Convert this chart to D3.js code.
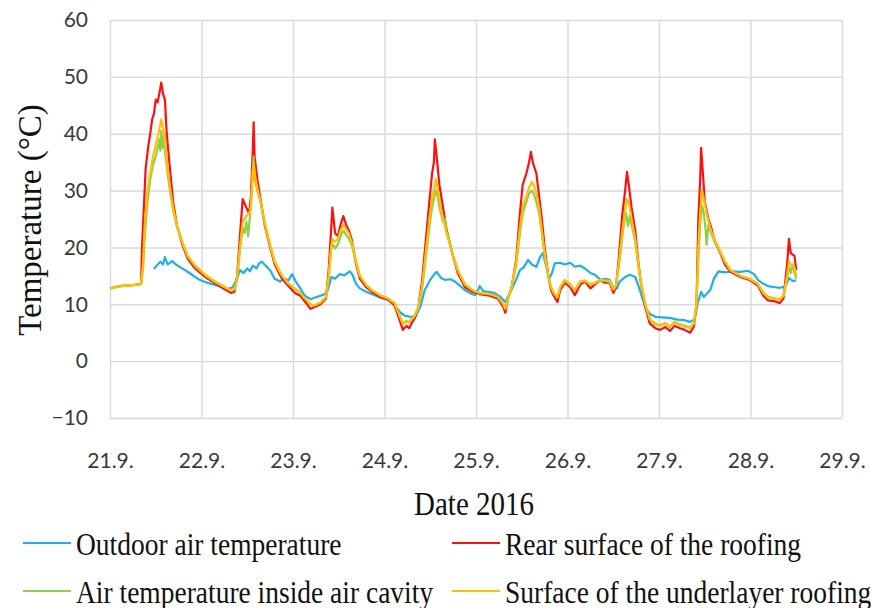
<!DOCTYPE html>
<html>
<head>
<meta charset="utf-8">
<script src="https://cdn.jsdelivr.net/npm/d3@7"></script>
<style>
  html, body { margin: 0; padding: 0; background: #fff; }
  svg { display: block; }
</style>
</head>
<body>
<svg id="chart" width="871" height="608"></svg>
<script>
// Tick labels (days of September 2016) and axis ticks
const dateLabels = ["21.9.", "22.9.", "23.9.", "24.9.", "25.9.", "26.9.", "27.9.", "28.9.", "29.9."];
const tempTicks = [-10, 0, 10, 20, 30, 40, 50, 60];

// Measured series: [days since 21.9. 00:00, temperature °C]
const outdoorAir = [
  [0.48,16.2],[0.51,16.8],[0.55,17.5],[0.58,17],[0.60,18.3],[0.63,17],[0.68,17.6],[0.72,17],[0.77,16.5],
  [0.82,16],[0.87,15.5],[0.93,14.8],[0.98,14.3],[1.06,13.8],[1.15,13.4],[1.22,13],[1.29,12.7],[1.34,13],
  [1.39,14.5],[1.42,16],[1.46,15.5],[1.50,16.3],[1.53,15.8],[1.56,16.8],[1.60,16.3],[1.63,17.2],[1.66,17.5],
  [1.70,16.8],[1.75,16],[1.80,14.5],[1.86,14],[1.90,14.6],[1.95,14.2],[1.99,15.3],[2.03,14],[2.08,12.8],
  [2.13,11.5],[2.19,10.9],[2.24,11.2],[2.30,11.5],[2.35,11.8],[2.38,12.5],[2.42,14.8],[2.46,14.5],[2.51,15.3],
  [2.56,15.1],[2.62,15.8],[2.65,15.2],[2.69,13.6],[2.73,12.8],[2.80,12.2],[2.86,11.8],[2.95,11.2],[3.04,10.8],
  [3.11,9.9],[3.17,8.6],[3.22,8],[3.28,7.8],[3.34,7.9],[3.39,9.5],[3.44,12.5],[3.50,14.3],[3.54,15.2],
  [3.57,15.7],[3.62,14.6],[3.66,14.3],[3.72,14.4],[3.77,14],[3.83,13.2],[3.88,12.5],[3.93,12],[3.99,11.6],
  [4.02,12.4],[4.04,13.2],[4.08,12.3],[4.13,12.2],[4.20,12],[4.26,11.4],[4.32,10.4],[4.37,12],[4.43,14],
  [4.48,16],[4.52,16.5],[4.57,17.8],[4.61,17],[4.66,16.6],[4.70,18.3],[4.73,19],[4.77,16.5],[4.80,14.5],
  [4.83,15.5],[4.86,17.2],[4.92,17.3],[4.97,17.0],[5.03,17.3],[5.08,16.6],[5.14,16.8],[5.19,16.3],[5.25,15.5],
  [5.30,15.2],[5.36,14.3],[5.41,14.5],[5.46,14.3],[5.50,13],[5.54,12.8],[5.57,14],[5.63,14.8],[5.68,15.2],
  [5.74,14.8],[5.77,13.5],[5.80,12],[5.85,9.5],[5.90,8.3],[5.96,7.8],[6.03,7.7],[6.12,7.6],[6.20,7.3],
  [6.28,7.2],[6.34,6.9],[6.39,7.4],[6.42,10],[6.46,12.2],[6.49,11.3],[6.52,11.8],[6.56,12.5],[6.60,14.5],
  [6.65,15.8],[6.72,15.6],[6.80,15.8],[6.89,15.7],[6.97,15.9],[7.04,15.3],[7.08,14.3],[7.14,13.6],[7.19,13.2],
  [7.27,13],[7.32,12.9],[7.38,13.1],[7.42,14.6],[7.46,14.1],[7.50,14.2]
];

const rearSurface = [
  [0.00,12.8],[0.11,13.2],[0.27,13.4],[0.34,13.6],[0.35,20],[0.37,27],[0.39,34],[0.42,38],[0.44,40],
  [0.46,42.5],[0.48,43.5],[0.50,46],[0.52,45.5],[0.55,48],[0.56,49],[0.58,47],[0.60,46],[0.62,40],[0.66,33],
  [0.69,28],[0.73,24],[0.79,20.5],[0.85,18],[0.93,16.3],[1.04,14.8],[1.15,13.7],[1.26,12.6],[1.32,12.0],
  [1.36,12.2],[1.39,15],[1.42,22],[1.45,28.5],[1.49,27],[1.52,26],[1.54,29],[1.56,37],[1.57,42],[1.58,36],
  [1.61,32],[1.64,29],[1.69,24],[1.75,20],[1.80,17],[1.88,14.5],[1.95,13.2],[2.02,12],[2.08,11.5],[2.13,10.5],
  [2.19,9.2],[2.23,9.5],[2.30,10],[2.36,11],[2.39,16],[2.42,24],[2.43,27],[2.46,22.5],[2.49,22],[2.52,24],
  [2.55,25.5],[2.58,24],[2.61,23],[2.64,21.5],[2.69,17],[2.73,14.5],[2.80,13],[2.86,12.2],[2.95,11.3],
  [3.04,10.8],[3.11,9.8],[3.17,7],[3.20,5.5],[3.24,6.2],[3.27,5.8],[3.30,6.8],[3.33,7.5],[3.37,9.5],[3.41,14],
  [3.45,21],[3.49,28],[3.52,33],[3.54,35],[3.55,39],[3.57,36],[3.60,31],[3.64,27],[3.68,23],[3.74,19],
  [3.80,15.5],[3.88,13],[3.96,12.2],[4.04,11.8],[4.15,11.5],[4.24,11],[4.30,9.5],[4.32,8.5],[4.35,11],
  [4.39,13],[4.44,18],[4.48,26],[4.51,31],[4.55,33],[4.58,35],[4.60,36.8],[4.62,35],[4.66,33],[4.69,29],
  [4.72,25],[4.75,20],[4.79,15],[4.82,12.5],[4.85,11.5],[4.89,10.4],[4.92,12.5],[4.97,13.8],[5.03,13],
  [5.08,11.6],[5.14,13.5],[5.19,14],[5.25,12.8],[5.30,13.5],[5.36,14.2],[5.41,13.8],[5.46,13.8],[5.50,12],
  [5.53,13],[5.56,18],[5.60,26],[5.63,30],[5.65,33.3],[5.67,31],[5.70,27],[5.74,23],[5.77,18],[5.80,14],
  [5.85,9.5],[5.90,6.6],[5.96,5.8],[6.01,5.5],[6.07,6],[6.12,5.3],[6.17,6.2],[6.23,5.8],[6.28,5.5],[6.34,5],
  [6.38,6],[6.41,10],[6.43,25],[6.45,32],[6.46,37.5],[6.48,33],[6.50,28],[6.54,25],[6.57,23.5],[6.61,21],
  [6.67,19],[6.72,17],[6.78,15.7],[6.89,14.8],[6.99,14.3],[7.08,13.3],[7.14,11.5],[7.19,10.7],[7.27,10.5],
  [7.32,10.2],[7.36,11],[7.40,17],[7.42,21.5],[7.44,19],[7.48,18.5],[7.50,16]
];

const airCavity = [
  [0.00,12.8],[0.11,13.2],[0.27,13.4],[0.34,13.6],[0.36,16],[0.38,22],[0.41,28],[0.44,32],[0.47,34.5],
  [0.50,36],[0.52,37.5],[0.54,39],[0.55,37],[0.56,40.5],[0.57,37.5],[0.58,39.5],[0.60,37],[0.63,33],
  [0.66,29.5],[0.69,26.5],[0.73,23.8],[0.79,20.8],[0.85,18.4],[0.93,16.7],[1.04,15.1],[1.15,13.9],[1.26,12.9],
  [1.32,12.4],[1.36,12.6],[1.39,14.5],[1.42,19.5],[1.45,23.5],[1.47,22.5],[1.49,24.5],[1.51,22],[1.53,25.5],
  [1.55,30],[1.57,36],[1.58,32],[1.61,30],[1.64,28.2],[1.69,24.3],[1.75,20.3],[1.80,17.4],[1.88,15],
  [1.95,13.6],[2.02,12.7],[2.08,12],[2.13,11],[2.19,10],[2.23,9.8],[2.30,10.3],[2.36,11.3],[2.39,14.5],
  [2.42,20],[2.44,20.5],[2.46,19.8],[2.49,20.5],[2.52,22],[2.55,23],[2.58,22.2],[2.61,21.6],[2.64,20.5],
  [2.69,17.3],[2.73,15],[2.80,13.4],[2.86,12.5],[2.95,11.6],[3.04,11],[3.11,10.2],[3.17,7.8],[3.20,6.6],
  [3.24,7.1],[3.27,6.9],[3.30,7.5],[3.33,8],[3.37,9.4],[3.41,12.5],[3.45,18],[3.49,23.5],[3.52,27],
  [3.54,28.5],[3.56,30],[3.58,29],[3.60,27],[3.64,24.5],[3.66,25],[3.68,22.5],[3.70,21.8],[3.74,19],
  [3.80,16],[3.88,13.5],[3.96,12.5],[4.04,12],[4.15,11.8],[4.24,11.3],[4.30,10],[4.32,9.3],[4.35,11],
  [4.39,13],[4.44,17],[4.48,22.5],[4.51,26],[4.55,28],[4.58,29.5],[4.61,30],[4.63,29.5],[4.66,28],[4.69,26],
  [4.72,22.5],[4.75,18.5],[4.79,15],[4.82,13],[4.85,12],[4.89,11.3],[4.92,13],[4.97,14.2],[5.03,13.4],
  [5.08,12.5],[5.14,14],[5.19,14.1],[5.25,13.4],[5.30,13.7],[5.36,14.2],[5.41,14.1],[5.46,14],[5.50,12.6],
  [5.53,13.2],[5.56,16.5],[5.60,22],[5.62,24.5],[5.64,26],[5.66,23.8],[5.68,25.5],[5.70,24],[5.74,21],
  [5.77,17.3],[5.80,14],[5.85,10],[5.90,7.4],[5.96,6.6],[6.01,6.3],[6.07,6.7],[6.12,6.1],[6.17,6.9],
  [6.23,6.5],[6.28,6.2],[6.34,5.9],[6.38,6.7],[6.41,10],[6.43,18],[6.45,24],[6.47,27.5],[6.49,26],[6.51,23],
  [6.52,20.5],[6.54,24],[6.57,22.5],[6.61,21],[6.67,19.2],[6.72,17.5],[6.78,16],[6.89,15],[6.99,14.5],
  [7.08,13.6],[7.14,12],[7.19,11.3],[7.27,11],[7.32,10.9],[7.36,11.5],[7.40,14.5],[7.42,16.5],[7.44,15.5],
  [7.46,17],[7.48,15.5],[7.50,14.5]
];

const underlayer = [
  [0.00,12.8],[0.11,13.2],[0.27,13.4],[0.34,13.6],[0.36,17],[0.38,24],[0.41,30],[0.44,33],[0.47,36],
  [0.50,38],[0.53,40],[0.56,42.5],[0.58,41],[0.60,39],[0.63,34],[0.66,30],[0.69,27],[0.73,24],[0.79,21],
  [0.85,18.5],[0.93,16.8],[1.04,15.2],[1.15,14],[1.26,13],[1.32,12.5],[1.36,12.6],[1.39,14.5],[1.42,20],
  [1.45,24.5],[1.49,25.5],[1.52,26],[1.54,27],[1.56,33],[1.57,35],[1.58,33],[1.61,30.5],[1.64,28.5],
  [1.69,24.5],[1.75,20.5],[1.80,17.5],[1.88,15],[1.95,13.7],[2.02,12.8],[2.08,12],[2.13,11],[2.19,10],
  [2.23,9.8],[2.30,10.3],[2.36,11.3],[2.39,15],[2.42,20.5],[2.43,21.5],[2.46,21],[2.49,21.5],[2.52,23],
  [2.55,24],[2.58,23.2],[2.61,22.5],[2.64,21],[2.69,17.5],[2.73,15],[2.80,13.4],[2.86,12.5],[2.95,11.6],
  [3.04,11],[3.11,10.2],[3.17,7.8],[3.20,6.5],[3.24,7],[3.27,6.8],[3.30,7.4],[3.33,8],[3.37,9.5],[3.41,13],
  [3.45,19],[3.49,25],[3.52,28.5],[3.54,30],[3.56,32],[3.58,30.5],[3.60,28],[3.64,25],[3.68,22.5],[3.74,19],
  [3.80,16],[3.88,13.5],[3.96,12.5],[4.04,12],[4.15,11.8],[4.24,11.3],[4.30,10],[4.32,9.2],[4.35,11],
  [4.39,13],[4.44,17.5],[4.48,23.5],[4.51,27],[4.55,29],[4.58,30.5],[4.61,31.5],[4.63,31],[4.66,29.5],
  [4.69,27],[4.72,23],[4.75,19],[4.79,15],[4.82,13],[4.85,12],[4.89,11.2],[4.92,13],[4.97,14.3],[5.03,13.5],
  [5.08,12.5],[5.14,14],[5.19,14.2],[5.25,13.5],[5.30,13.8],[5.36,14.3],[5.41,14.2],[5.46,14.1],[5.50,12.6],
  [5.53,13.3],[5.56,17],[5.60,23],[5.63,26.5],[5.65,28.5],[5.67,28],[5.70,25],[5.74,21.5],[5.77,17.5],
  [5.80,14],[5.85,10],[5.90,7.3],[5.96,6.5],[6.01,6.2],[6.07,6.6],[6.12,6],[6.17,6.8],[6.23,6.4],[6.28,6.1],
  [6.34,5.8],[6.38,6.6],[6.41,10],[6.43,20],[6.45,26],[6.47,30],[6.49,28.5],[6.52,26],[6.55,24],[6.58,22.5],
  [6.62,21],[6.67,19.3],[6.72,17.5],[6.78,16],[6.89,15],[6.99,14.5],[7.08,13.6],[7.14,12],[7.19,11.2],
  [7.27,11],[7.32,10.8],[7.36,11.5],[7.40,15],[7.42,17.5],[7.44,17],[7.48,16.5],[7.50,15]
];

const seriesNames = [
  "Outdoor air temperature",
  "Rear surface of the roofing",
  "Air temperature inside air cavity",
  "Surface of the underlayer roofing"
];
const seriesColors = ["#1fb0ec", "#ff1010", "#8fcf4c", "#ffc000"];
const seriesData = [outdoorAir, rearSurface, airCavity, underlayer];

// Layout
const svg = d3.select("#chart");
const plot = { left: 110, top: 20, right: 842, bottom: 418 };

const x = d3.scaleLinear().domain([0, 8]).range([plot.left, plot.right]);
const y = d3.scaleLinear().domain([-10, 60]).range([plot.bottom, plot.top]);

// Axes with full-length ticks acting as gridlines
const xAxis = d3.axisBottom(x)
  .tickValues(d3.range(dateLabels.length))
  .tickFormat(i => dateLabels[i])
  .tickSize(-(plot.bottom - plot.top))
  .tickPadding(35);

const yAxis = d3.axisLeft(y)
  .tickValues(tempTicks)
  .tickFormat(d3.format("d"))
  .tickSize(-(plot.right - plot.left))
  .tickPadding(22);

function styleAxis(g) {
  g.select(".domain").remove();
  g.selectAll(".tick line").attr("stroke", "#d9d9d9").attr("stroke-width", 1.4);
  g.selectAll(".tick text")
    .attr("fill", "#3a3a3a")
    .style("font-family", "Lato, 'Open Sans', sans-serif")
    .style("font-size", "21px");
}

svg.append("g")
  .attr("transform", `translate(0,${plot.bottom})`)
  .call(xAxis)
  .call(styleAxis);

svg.append("g")
  .attr("transform", `translate(${plot.left},0)`)
  .call(yAxis)
  .call(styleAxis);

// Series lines
const line = d3.line()
  .x(d => x(d[0]))
  .y(d => y(d[1]));

svg.append("g")
  .selectAll("path")
  .data(seriesData)
  .join("path")
  .attr("d", line)
  .attr("fill", "none")
  .attr("stroke", (d, i) => seriesColors[i])
  .attr("stroke-width", 2.2)
  .attr("stroke-linejoin", "round");

// Axis titles (serif, slightly tall glyphs)
const serif = "'Liberation Serif', 'Times New Roman', serif";
const stretch = 1.14;

svg.append("text")
  .attr("transform", "translate(41,220) rotate(-90)")
  .attr("text-anchor", "middle")
  .style("font-family", serif)
  .style("font-size", "33px")
  .attr("fill", "#111")
  .text("Temperature (°C)");

svg.append("text")
  .attr("transform", `translate(474,515) scale(1,${stretch})`)
  .attr("text-anchor", "middle")
  .style("font-family", serif)
  .style("font-size", "29px")
  .attr("fill", "#111")
  .text("Date 2016");

// Legend: two columns, two rows
const legendPos = [
  { lx: 23, ly: 543 },
  { lx: 452, ly: 543 },
  { lx: 23, ly: 591 },
  { lx: 452, ly: 591 }
];

const legend = svg.append("g")
  .selectAll("g")
  .data(seriesNames)
  .join("g")
  .attr("transform", (d, i) => `translate(${legendPos[i].lx},${legendPos[i].ly})`);

legend.append("line")
  .attr("x1", 0).attr("x2", 48)
  .attr("y1", 0).attr("y2", 0)
  .attr("stroke", (d, i) => seriesColors[i])
  .attr("stroke-width", 2);

legend.append("text")
  .attr("transform", `translate(53,12) scale(1,${stretch})`)
  .style("font-family", serif)
  .style("font-size", "27.5px")
  .attr("fill", "#111")
  .text(d => d);
</script>
</body>
</html>
